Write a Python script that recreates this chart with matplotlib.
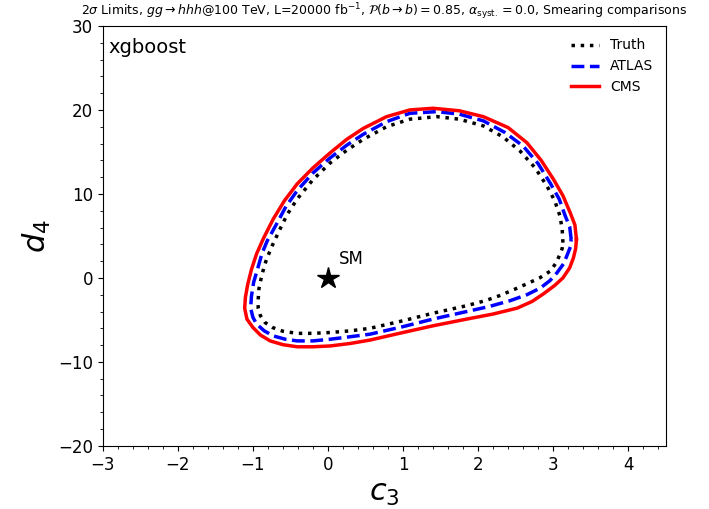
import numpy as np
import matplotlib
matplotlib.use('Agg')
from matplotlib import pyplot as plt
from matplotlib.ticker import MultipleLocator

# contour points (c3, d4), closed loops, counter-clockwise
truth_c3 = [3.13, 3.12, 3.09, 3.02, 2.92, 2.76, 2.56, 2.33, 2.07, 1.75, 1.45, 1.09, 0.78, 0.47,
            0.25, 0.03, -0.2, -0.41, -0.54, -0.64, -0.74, -0.82, -0.88, -0.92, -0.93, -0.93,
            -0.9, -0.84, -0.74, -0.6, -0.41, -0.2, 0.03, 0.3, 0.56, 1.0, 1.4, 1.85, 2.1, 2.29,
            2.5, 2.65, 2.82, 2.96, 3.04, 3.09, 3.12]
truth_d4 = [4.2, 5.8, 7.4, 9.2, 10.9, 13.1, 15.1, 16.8, 18.1, 18.9, 19.2, 18.9, 18.0, 16.5,
            15.2, 13.7, 11.7, 9.4, 7.6, 5.8, 3.9, 2.2, 0.4, -1.3, -2.6, -3.6,
            -4.5, -5.3, -5.9, -6.35, -6.6, -6.6, -6.5, -6.3, -6.0, -5.1, -4.2, -3.3, -2.7, -2.1,
            -1.3, -0.7, 0.0, 0.8, 1.8, 2.8, 3.5]

atlas_c3 = [3.24, 3.22, 3.16, 3.08, 2.96, 2.8, 2.6, 2.36, 2.07, 1.75, 1.45, 1.09, 0.78, 0.47,
            0.25, 0.03, -0.2, -0.41, -0.56, -0.68, -0.81, -0.88, -0.94, -0.99, -1.02, -1.03,
            -1.0, -0.95, -0.85, -0.73, -0.57, -0.41, -0.2, 0.03, 0.3, 0.56, 1.0, 1.4, 1.85, 2.15,
            2.43, 2.65, 2.83, 2.96, 3.05, 3.14, 3.19, 3.23]
atlas_d4 = [4.6, 6.1, 7.4, 9.4, 11.3, 13.6, 15.7, 17.3, 18.7, 19.5, 19.8, 19.6, 18.6, 17.1,
            15.8, 14.3, 12.5, 10.4, 8.5, 6.5, 4.4, 2.9, 1.0, -0.5, -2.2, -3.6,
            -4.7, -5.5, -6.3, -6.9, -7.3, -7.5, -7.5, -7.3, -7.0, -6.7, -5.8, -4.9, -4.0, -3.4,
            -2.7, -2.0, -1.2, -0.3, 0.6, 1.7, 2.8, 3.7]

cms_c3 = [3.31, 3.29, 3.23, 3.13, 3.0, 2.84, 2.65, 2.4, 2.07, 1.75, 1.4, 1.09, 0.78, 0.47,
          0.25, 0.03, -0.2, -0.41, -0.58, -0.73, -0.86, -0.95, -1.02, -1.07, -1.1, -1.11,
          -1.08, -1.0, -0.9, -0.77, -0.6, -0.41, -0.2, 0.03, 0.3, 0.56, 1.0, 1.4, 1.85, 2.2,
          2.52, 2.72, 2.87, 3.02, 3.13, 3.22, 3.27, 3.3]
cms_d4 = [4.6, 6.3, 7.7, 9.8, 11.8, 14.0, 16.1, 17.9, 19.2, 19.9, 20.2, 20.0, 19.2, 17.8,
          16.5, 14.9, 13.1, 11.2, 9.2, 7.0, 4.7, 2.9, 1.0, -0.8, -2.3, -3.6,
          -4.9, -5.9, -6.8, -7.5, -7.95, -8.2, -8.2, -8.1, -7.8, -7.4, -6.5, -5.7, -4.9, -4.3,
          -3.6, -2.8, -1.9, -0.9, 0.0, 1.2, 2.4, 3.5]

sm_point = (0.0, 0.0)

def closed(a):
    return list(a) + [a[0]]

fig = plt.figure(figsize=(7.09, 5.09), dpi=100)
ax = fig.add_axes([0.145, 0.124, 0.794, 0.825])

ax.plot(closed(truth_c3), closed(truth_d4), color='black', ls=':', lw=2.5, label='Truth')
ax.plot(closed(atlas_c3), closed(atlas_d4), color='blue', ls='--', lw=2.5, label='ATLAS')
ax.plot(closed(cms_c3), closed(cms_d4), color='red', ls='-', lw=2.5, label='CMS')

ax.plot(*sm_point, marker='*', color='black', markersize=16, ls='none')
ax.text(0.15, 1.6, 'SM', fontsize=12)
ax.text(-2.92, 27.4, 'xgboost', fontsize=14, va='center')

ax.set_xlim(-3, 4.5)
ax.set_ylim(-20, 30)
ax.xaxis.set_minor_locator(MultipleLocator(0.2))
ax.yaxis.set_minor_locator(MultipleLocator(2))
ax.tick_params(labelsize=12)
ax.set_xlabel('$c_3$', fontsize=22)
ax.set_ylabel('$d_4$', fontsize=22)
ax.set_title(r'2$\sigma$ Limits, $gg \rightarrow hhh$@100 TeV, L=20000 fb$^{-1}$, '
             r'$\mathcal{P}(b \rightarrow b) = 0.85$, $\alpha_{\rm syst.} = 0.0$, Smearing comparisons',
             fontsize=9, pad=8)
ax.legend(loc='upper right', frameon=False, fontsize=10)

plt.savefig('out.png', dpi=100)
